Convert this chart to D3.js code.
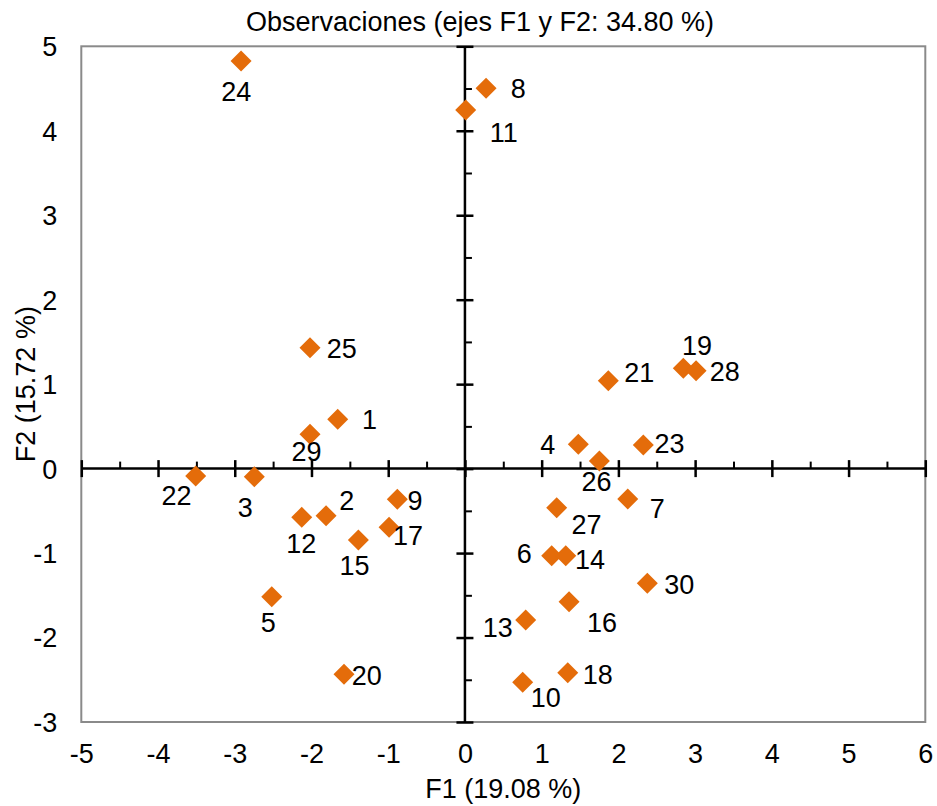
<!DOCTYPE html>
<html>
<head>
<meta charset="utf-8">
<script src="https://cdn.jsdelivr.net/npm/d3@7"></script>
<style>
  html, body { margin: 0; padding: 0; background: #fff; }
  svg { display: block; font-family: "Liberation Sans", Arial, sans-serif; }
</style>
</head>
<body>
<svg id="chart" width="937" height="806"></svg>
<script>
// ---- data ----
const obsLabels = ["1","2","3","4","5","6","7","8","9","10","11","12","13","14","15",
                   "16","17","18","19","20","21","22","23","24","25","26","27","28","29","30"];
const f1Values = [-1.658,-1.810,-2.745,1.478,-2.518,1.131,2.122,0.275,-0.881,0.753,
                  0.010,-2.127,0.792,1.314,-1.389,1.357,-0.989,1.340,2.846,-1.576,
                  1.869,-3.509,2.325,-2.918,-2.019,1.752,1.196,3.012,-2.019,2.377];
const f2Values = [0.584,-0.558,-0.096,0.288,-1.517,-1.031,-0.360,4.503,-0.363,-2.530,
                  4.246,-0.577,-1.793,-1.031,-0.845,-1.576,-0.695,-2.417,1.188,-2.435,
                  1.041,-0.088,0.279,4.826,1.431,0.090,-0.463,1.159,0.406,-1.358];
const xTickLabels = [-5,-4,-3,-2,-1,0,1,2,3,4,5,6];
const yTickLabels = [-3,-2,-1,0,1,2,3,4,5];
const titleText = "Observaciones (ejes F1 y F2: 34.80 %)";
const xTitleText = "F1 (19.08 %)";
const yTitleText = "F2 (15.72 %)";

// ---- layout (label placement offsets in px, relative to each point) ----
const labelOffsets = [
  [31.8,10],[20.7,-5.7],[-9,40],[-30.5,9.7],[-3.4,35],[-27.5,7.6],[29.5,18.7],[32.3,10],[17.7,10.7],[23.1,25],
  [38,31.7],[-0.5,35.4],[-27.9,16.7],[24.3,13.6],[-3.8,35],[33,30],[19,17.7],[30.1,11.3],[13.7,-13.3],[22.7,10.7],
  [30.9,1.6],[-19.2,29],[26.2,8.3],[-4.8,39.7],[31.8,10],[-2.8,29.7],[29.8,26.3],[28.7,10],[-3.5,26.7],[31.9,11]
];

const svg = d3.select("#chart");
const L = 81.3, R = 925.3, T = 46.3, B = 722;
const x = d3.scaleLinear().domain([-5, 6]).range([L, R]);
const y = d3.scaleLinear().domain([-3, 5]).range([B, T]);
const FS = 27;
const markerColor = "#E46C0A";
const fmt = d => String(d);

// title
svg.append("text").attr("x", 480).attr("y", 30.5).attr("text-anchor", "middle")
  .attr("font-size", FS).attr("fill", "#000").text(titleText);

// frame
svg.append("rect").attr("x", L).attr("y", T).attr("width", R - L).attr("height", B - T)
  .attr("fill", "none").attr("stroke", "#8a8a8a").attr("stroke-width", 2);

// minor ticks (half units)
const xMinor = d3.range(-4.5, 6, 1);
const yMinor = d3.range(-2.5, 5, 1);
const x0 = x(0), y0 = y(0);

const axX = svg.append("g").attr("transform", `translate(0,${y0})`)
  .call(d3.axisTop(x).tickValues(xMinor).tickSize(7).tickFormat(""));
axX.select(".domain").remove();
axX.selectAll(".tick line").attr("stroke", "#000").attr("stroke-width", 2);

const axY = svg.append("g").attr("transform", `translate(${x0},0)`)
  .call(d3.axisRight(y).tickValues(yMinor).tickSize(7).tickFormat(""));
axY.select(".domain").remove();
axY.selectAll(".tick line").attr("stroke", "#000").attr("stroke-width", 2);

// major crossing ticks
const axXM = svg.append("g").attr("transform", `translate(0,${y0})`)
  .call(d3.axisBottom(x).tickValues(xTickLabels).tickFormat(""));
axXM.select(".domain").attr("stroke", "#000").attr("stroke-width", 2.5)
  .attr("d", `M${L},0H${R}`);
axXM.selectAll(".tick line").attr("y1", -8.5).attr("y2", 8.5)
  .attr("stroke", "#000").attr("stroke-width", 2.5);

const axYM = svg.append("g").attr("transform", `translate(${x0},0)`)
  .call(d3.axisLeft(y).tickValues(yTickLabels).tickFormat(""));
axYM.select(".domain").attr("stroke", "#000").attr("stroke-width", 2.5)
  .attr("d", `M0,${B}V${T}`);
axYM.selectAll(".tick line").attr("x1", -8.5).attr("x2", 8.5)
  .attr("stroke", "#000").attr("stroke-width", 2.5);

// tick labels at low positions
const xl = svg.append("g").attr("transform", `translate(0,${B})`)
  .call(d3.axisBottom(x).tickValues(xTickLabels).tickSize(0).tickPadding(0).tickFormat(fmt));
xl.select(".domain").remove();
xl.selectAll("text").attr("font-size", FS).attr("font-family", null).attr("fill", "#000")
  .attr("dy", null).attr("y", 41);

const yl = svg.append("g").attr("transform", `translate(${L},0)`)
  .call(d3.axisLeft(y).tickValues(yTickLabels).tickSize(0).tickPadding(0).tickFormat(fmt));
yl.select(".domain").remove();
yl.selectAll("text").attr("font-size", FS).attr("font-family", null).attr("fill", "#000")
  .attr("x", -24).attr("dy", "0.35em");

// axis titles
svg.append("text").attr("x", (L + R) / 2).attr("y", 798).attr("text-anchor", "middle")
  .attr("font-size", FS).attr("fill", "#000").text(xTitleText);
svg.append("text").attr("transform", `translate(35,${(T + B) / 2}) rotate(-90)`)
  .attr("text-anchor", "middle").attr("font-size", FS).attr("fill", "#000").text(yTitleText);

// points
const pts = obsLabels.map((lab, i) => ({ lab, f1: f1Values[i], f2: f2Values[i], off: labelOffsets[i] }));
svg.append("g").selectAll("path").data(pts).join("path")
  .attr("transform", d => `translate(${x(d.f1)},${y(d.f2)})`)
  .attr("d", "M0,-10.5L10.5,0L0,10.5L-10.5,0Z")
  .attr("fill", markerColor);

svg.append("g").selectAll("text").data(pts).join("text")
  .attr("x", d => x(d.f1) + d.off[0])
  .attr("y", d => y(d.f2) + d.off[1])
  .attr("text-anchor", "middle").attr("font-size", FS).attr("fill", "#000")
  .text(d => d.lab);
</script>
</body>
</html>
